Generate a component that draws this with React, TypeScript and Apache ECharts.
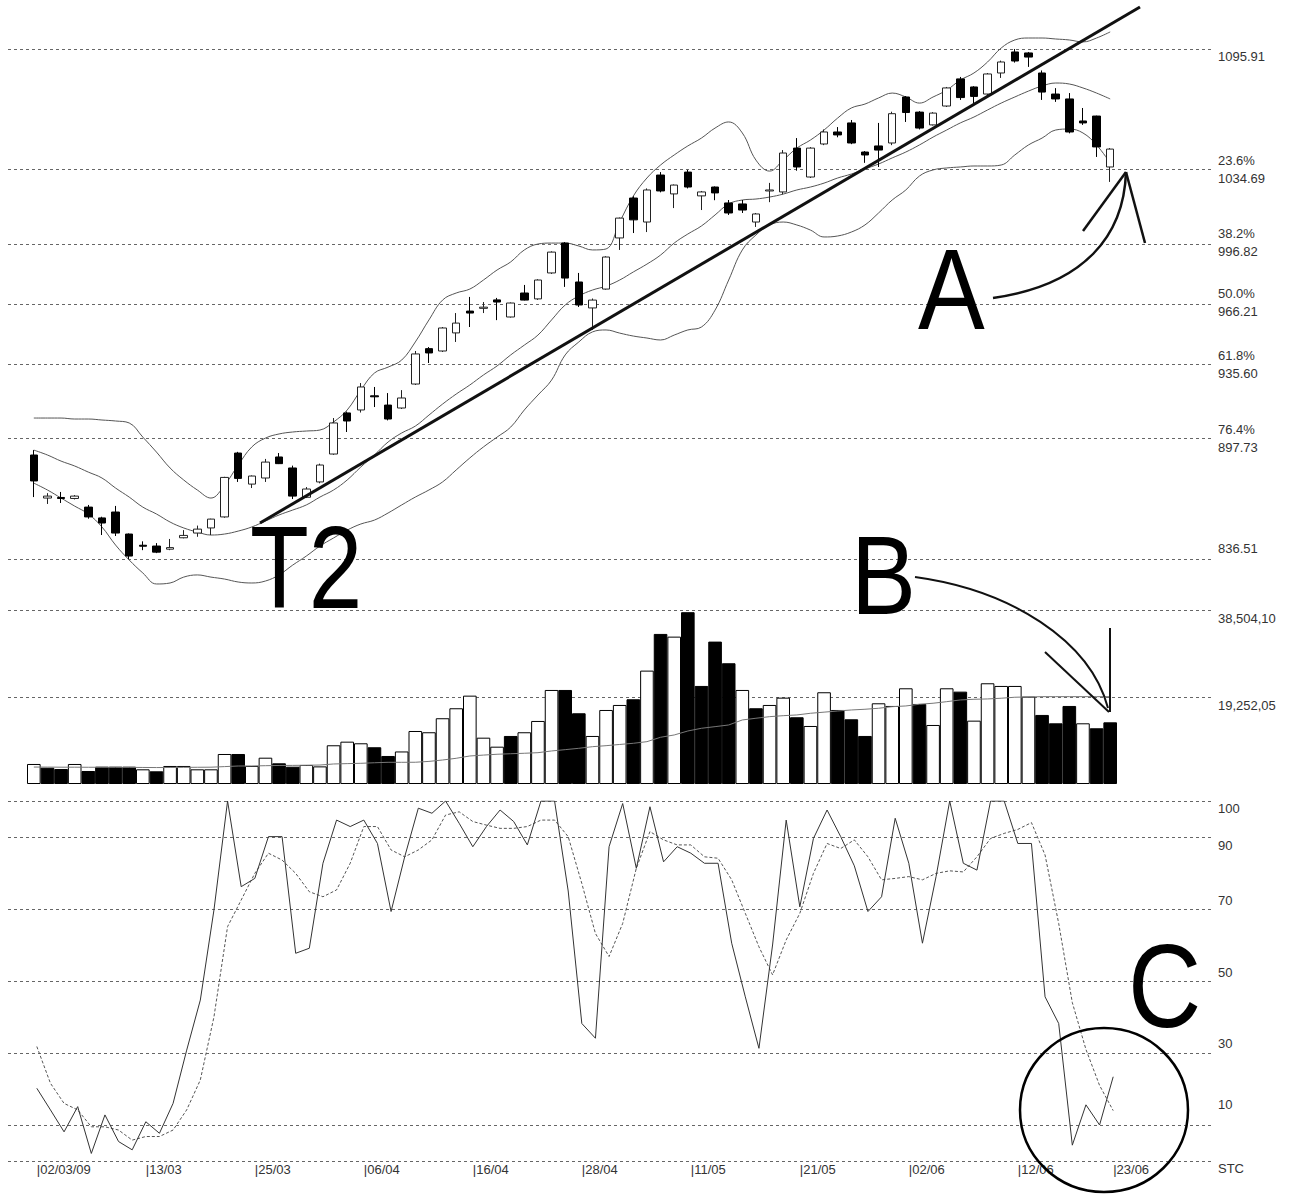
import React, { useEffect, useRef } from "react";
import * as echarts from "echarts";

const FONT = "'Liberation Sans', Arial, sans-serif";

const dates = ["02/03/09","03/03/09","04/03/09","05/03/09","06/03/09","10/03/09","11/03/09","12/03/09","13/03/09","16/03/09","17/03/09","18/03/09","19/03/09","20/03/09","23/03/09","24/03/09","25/03/09","26/03/09","27/03/09","30/03/09","31/03/09","01/04/09","02/04/09","03/04/09","06/04/09","07/04/09","08/04/09","09/04/09","10/04/09","13/04/09","14/04/09","15/04/09","16/04/09","17/04/09","20/04/09","21/04/09","22/04/09","23/04/09","24/04/09","27/04/09","28/04/09","29/04/09","30/04/09","04/05/09","05/05/09","06/05/09","07/05/09","08/05/09","11/05/09","12/05/09","13/05/09","14/05/09","15/05/09","18/05/09","19/05/09","20/05/09","21/05/09","22/05/09","25/05/09","26/05/09","27/05/09","28/05/09","29/05/09","01/06/09","02/06/09","03/06/09","04/06/09","05/06/09","08/06/09","09/06/09","10/06/09","11/06/09","12/06/09","15/06/09","16/06/09","17/06/09","18/06/09","19/06/09","22/06/09","23/06/09"];
const xLabelIndices = [0, 8, 16, 24, 32, 40, 48, 56, 64, 72, 79];

const opens = [889.4,867.5,867.8,867.3,862.9,857.4,860.4,849.2,843.5,843.1,841.5,847.3,849.7,852.3,857.9,890.4,874.6,877.7,888.4,882.8,867.9,875.7,889.9,910.8,912.3,919.5,914.8,913.3,925.5,943.5,942.3,951.5,962.6,964.0,968.3,959.6,971.8,968.8,982.0,997.2,977.4,964.2,973.8,999.8,1020.1,1007.9,1031.8,1022.2,1033.3,1021.2,1025.7,1017.6,1017.1,1007.9,1023.7,1023.2,1045.5,1030.8,1047.6,1053.7,1058.3,1043.5,1046.6,1048.1,1071.5,1063.8,1057.3,1066.9,1080.7,1076.6,1073.0,1083.7,1094.4,1093.9,1083.7,1073.0,1070.5,1059.3,1061.8,1035.9];
const closes = [876.2,868.5,867.3,868.5,857.9,854.8,849.7,838.0,843.0,840.0,842.3,848.5,851.7,856.8,878.0,877.5,878.7,885.8,885.0,868.5,872.1,884.3,905.7,906.7,924.0,919.0,907.7,918.4,940.8,941.3,954.0,956.5,961.6,964.6,967.2,966.7,968.2,978.4,992.6,979.4,965.7,968.2,990.1,1009.9,1009.0,1024.2,1023.7,1026.7,1025.7,1023.2,1022.7,1012.5,1014.0,1012.0,1024.2,1043.0,1035.9,1045.5,1053.7,1052.2,1048.1,1042.0,1044.5,1063.0,1063.6,1055.7,1063.3,1076.1,1071.2,1071.8,1083.2,1089.3,1089.8,1091.8,1074.0,1070.5,1053.7,1058.3,1046.1,1045.0];
const lows = [868.0,864.5,865.0,866.8,857.0,848.7,848.2,836.51,841.0,839.5,841.0,847.0,847.8,848.7,857.5,875.7,872.6,875.7,884.8,867.0,867.5,875.0,889.5,901.1,911.0,913.8,907.0,912.8,925.0,936.2,941.8,946.9,954.5,961.6,958.0,959.3,968.0,968.3,981.5,974.9,964.7,953.0,973.5,993.7,1002.3,1002.8,1023.0,1015.0,1025.0,1014.0,1019.0,1011.5,1012.5,1005.4,1018.0,1022.0,1034.0,1030.3,1047.0,1051.0,1047.5,1038.0,1035.9,1047.0,1058.8,1055.0,1057.0,1066.4,1070.0,1068.4,1072.5,1081.2,1089.0,1086.8,1070.0,1069.0,1053.0,1057.3,1041.0,1028.3];
const highs = [891.9,870.0,870.6,869.0,864.0,858.0,863.5,849.5,845.5,844.6,846.7,851.2,853.5,857.0,878.3,891.0,879.0,887.4,890.4,884.0,873.1,885.0,908.2,911.5,926.0,924.0,920.9,922.4,942.3,944.3,954.5,961.6,969.8,967.2,969.3,967.0,975.9,978.8,993.0,997.7,982.0,969.0,990.5,1010.2,1021.0,1025.0,1033.3,1027.0,1034.4,1023.7,1026.0,1019.1,1019.1,1012.5,1027.8,1044.5,1050.6,1046.0,1055.0,1056.2,1059.8,1044.0,1058.3,1064.0,1072.0,1064.3,1063.8,1076.6,1081.7,1077.0,1083.7,1090.0,1095.91,1094.4,1085.0,1076.0,1073.5,1065.9,1062.0,1045.5];

const bbUpper = [908.2,908.2,908.2,907.7,907.7,907.2,906.7,905.7,898.5,890.9,882.8,876.7,871.6,867.5,874.1,884.3,893.5,898.0,900.1,901.1,901.6,902.1,906.2,912.3,922.4,931.1,934.1,937.7,946.9,958.1,968.2,971.8,973.8,978.4,983.5,987.6,993.7,996.7,997.2,997.2,995.7,993.7,994.2,1007.9,1021.1,1030.3,1036.9,1042.0,1046.6,1050.6,1055.7,1058.8,1053.2,1039.4,1033.8,1039.4,1045.5,1049.6,1054.7,1060.8,1065.9,1067.9,1071.0,1073.5,1071.5,1068.4,1071.5,1075.0,1080.1,1083.7,1089.3,1096.4,1100.5,1101.5,1101.5,1101.0,1100.5,1099.5,1101.5,1104.6];
const bbMiddle = [891.9,889.4,886.3,883.8,880.7,877.7,872.6,868.0,862.9,859.4,855.3,852.3,850.2,848.7,849.2,850.7,852.8,855.8,858.9,861.4,864.0,868.0,871.6,876.7,883.3,889.4,896.0,900.6,904.1,909.7,915.3,920.4,925.0,930.1,934.7,940.3,945.3,950.4,958.1,965.7,970.3,973.3,975.3,978.4,982.5,986.5,991.1,997.2,1001.8,1005.9,1011.5,1017.1,1019.1,1019.6,1020.6,1022.1,1024.2,1025.7,1027.7,1030.3,1032.3,1034.9,1037.4,1040.5,1043.5,1047.1,1051.1,1054.7,1058.3,1061.3,1064.9,1068.4,1071.5,1074.5,1077.1,1078.6,1078.1,1076.1,1073.5,1070.5];
const bbLower = [875.1,871.6,867.5,863.4,859.4,852.8,843.6,836.0,829.4,823.8,824.3,827.3,828.4,827.3,826.3,824.8,824.3,825.3,828.4,833.4,838.0,843.1,847.2,851.2,854.3,856.3,859.9,864.0,868.0,871.6,875.7,881.8,887.9,893.5,898.5,903.6,912.3,919.9,927.5,940.3,946.9,952.0,953.0,951.4,949.9,948.9,947.9,950.4,953.0,954.5,963.1,978.4,993.7,1001.3,1006.4,1007.9,1006.4,1003.8,1000.3,1000.8,1002.8,1006.4,1012.5,1019.1,1024.2,1031.3,1034.4,1035.4,1035.9,1036.4,1036.4,1036.9,1042.0,1047.1,1050.6,1054.7,1055.2,1053.2,1047.1,1037.9];

const volumes = [4430,3610,3320,4430,2880,3830,3830,3830,3250,2810,3990,3990,3250,3250,6640,6640,3990,5820,4580,3830,4210,3900,8570,9370,9010,8130,6200,7200,11730,11450,14550,16760,19550,10250,8260,10630,11450,13950,20810,20810,15650,10630,16380,17490,18750,25090,33210,32610,38020,21700,31510,26720,20810,16760,17490,19110,14770,12840,20300,16380,14320,10630,17860,17270,21180,17710,13060,21180,20440,14020,22290,21700,21700,19330,15280,13430,17270,13430,12330,13650];
const volumeMA = [3750,3740,3720,3720,3700,3700,3690,3680,3660,3640,3650,3680,3700,3720,3850,3980,3990,4050,4100,4120,4150,4200,4430,4510,4580,4700,4800,4800,4810,5000,5310,5690,6200,6400,6580,6700,6800,6930,7310,7600,7900,8260,8480,8750,9010,9370,10340,10850,11730,12330,12690,13060,14170,14550,14900,15120,15280,15650,15900,16160,16380,16540,16760,17110,17270,17650,17870,18220,18600,18750,18820,18980,19200,19260,19330,19330,19330,19330,19330,19330];

const stochK = [20.2,14.2,8.1,15.1,2.1,12.8,5.4,3.1,10.9,7.7,16.0,30.8,44.7,69.7,100,76.2,78.5,90.1,90.1,57.7,59.1,82.7,94.7,92.9,94.7,88.2,69.3,84.5,98.0,96.6,100,93.8,87.3,92.9,97.5,94.3,87.8,100,100,75,38.2,34.1,87.3,99.3,81.3,98.4,83.1,87.3,85.5,82.7,82.7,60.5,45.6,31.3,60,94.7,70.6,89.6,97.5,90.1,82,69.3,73.4,95.2,82.7,60.5,79.0,100,82.7,80.8,100,100,88.2,88.2,45.6,38.2,4.4,15.6,10.0,23.4];
const stochD = [31.8,21.6,16.0,14.2,9.5,9.5,8.6,5.8,6.8,6.8,8.6,14.2,22.5,40,65.1,72.5,79.9,85.5,83.6,79.9,74.8,73.4,75.3,82.7,92.9,92.9,86.4,84.5,86.4,89.2,96.1,97.0,94.3,93.3,92.4,92.4,92.9,94.7,94.7,90.1,77.1,63.2,56.8,66.0,81.3,91.5,89.2,87.8,87.8,84.5,84.1,78.1,68.8,59.5,51.7,61.4,68.8,79.9,88.2,86.8,89.2,84.5,78.1,78.5,79.0,78.1,79.9,80.6,80.3,84.5,89.6,91.0,92.1,94.0,85,66,44,31,21,14];

const priceLevels = [1095.91, 1034.69, 996.82, 966.21, 935.6, 897.73, 836.51];
const priceLevelLabels = ["1095.91", "23.6%\n1034.69", "38.2%\n996.82", "50.0%\n966.21", "61.8%\n935.60", "76.4%\n897.73", "836.51"];
const volumeLevels = [38504.1, 19252.05];
const volumeLevelLabels = ["38,504,10", "19,252,05"];
const stochLevels = [100, 90, 70, 50, 30, 10, 0];
const stochLevelLabels = ["100", "90", "70", "50", "30", "10", "STC"];

// label vertical offsets (styling only)
const priceLabelDy = [8, 0, -1, -1.5, 0, 0, -10];
const volumeLabelDy = [8, 8];
const stochLabelDy = [7, 8, -9, -9, -10, -21, 7];

const PRICE_MIN = 815.65, PRICE_MAX = 1120.83;
const VOL_MAX = 38504.1;

function refLines(values: number[], labels: string[], dys: number[]) {
  return {
    silent: true,
    z: 1,
    symbol: ["none", "none"],
    animation: false,
    lineStyle: { type: [3, 3], color: "#666", width: 1 },
    label: { position: "end", distance: 6, color: "#333", fontSize: 13, fontFamily: FONT, lineHeight: 18 },
    emphasis: { disabled: true },
    data: values.map((v, i) => ({ yAxis: v, label: { formatter: labels[i], offset: [0, dys[i]] } })),
  };
}

export default function App() {
  const ref = useRef<HTMLDivElement>(null);
  useEffect(() => {
    const chart = echarts.init(ref.current!, null, { renderer: "svg" });
    const dataGrid = { left: 27, width: 1090 };
    const stochGrid = { left: 30, width: 1090 };
    const refGrid = { left: 8, right: 77 };
    const hiddenCat = (g: number) => ({ type: "category", gridIndex: g, data: dates, boundaryGap: true, show: false });
    const hiddenVal = (g: number) => ({ type: "value", gridIndex: g, min: 0, max: 1, show: false });
    const yv = (g: number, min: number, max: number) => ({ type: "value", gridIndex: g, min, max, show: false, splitLine: { show: false } });
    const refSeries = (g: number, values: number[], labels: string[], dys: number[]) => ({
      type: "line", xAxisIndex: g, yAxisIndex: g, data: [], symbol: "none", silent: true, z: 1,
      lineStyle: { opacity: 0 }, markLine: refLines(values, labels, dys),
    });

    const option: any = {
      animation: false,
      backgroundColor: "#fff",
      grid: [
        { ...dataGrid, top: 0, height: 600 },
        { ...refGrid, top: 0, height: 600 },
        { ...dataGrid, top: 610, height: 174 },
        { ...refGrid, top: 610, height: 174 },
        { ...stochGrid, top: 801, height: 360 },
        { ...refGrid, top: 801, height: 360 },
      ],
      xAxis: [
        hiddenCat(0), hiddenVal(1), hiddenCat(2), hiddenVal(3),
        {
          type: "category", gridIndex: 4, data: dates, boundaryGap: true,
          axisLine: { show: false }, axisTick: { show: false }, splitLine: { show: false },
          axisLabel: {
            interval: (i: number) => xLabelIndices.includes(i),
            formatter: (v: string, i: number) => "|" + (i === 0 ? v : v.slice(0, 5)),
            align: "left", color: "#333", fontSize: 13, fontFamily: FONT, margin: 2,
          },
        },
        hiddenVal(5),
      ],
      yAxis: [
        yv(0, PRICE_MIN, PRICE_MAX), yv(1, PRICE_MIN, PRICE_MAX),
        yv(2, 0, VOL_MAX), yv(3, 0, VOL_MAX),
        yv(4, 0, 100), yv(5, 0, 100),
      ],
      series: [
        refSeries(1, priceLevels, priceLevelLabels, priceLabelDy),
        refSeries(3, volumeLevels, volumeLevelLabels, volumeLabelDy),
        refSeries(5, stochLevels, stochLevelLabels, stochLabelDy),
        ...[bbUpper, bbMiddle, bbLower].map((d) => ({
          type: "line", xAxisIndex: 0, yAxisIndex: 0, data: d, symbol: "none", smooth: 0.4, z: 2,
          lineStyle: { color: "#555", width: 1 },
        })),
        {
          type: "candlestick", xAxisIndex: 0, yAxisIndex: 0, z: 3, barWidth: 8,
          data: dates.map((_, i) => [opens[i], closes[i], lows[i], highs[i]]),
          itemStyle: { color: "#fff", color0: "#000", borderColor: "#222", borderColor0: "#000", borderWidth: 1 },
        },
        {
          type: "bar", xAxisIndex: 2, yAxisIndex: 2, barCategoryGap: "0%", z: 2,
          data: volumes.map((v, i) => {
            const up = i === 0 || closes[i] >= closes[i - 1];
            return { value: v, itemStyle: { color: up ? "#fff" : "#000", borderColor: "#000", borderWidth: 1 } };
          }),
        },
        {
          type: "line", xAxisIndex: 2, yAxisIndex: 2, data: volumeMA, symbol: "none", z: 3,
          lineStyle: { color: "#777", width: 1 },
        },
        {
          type: "line", xAxisIndex: 4, yAxisIndex: 4, data: stochK, symbol: "none", z: 3,
          lineStyle: { color: "#333", width: 1 },
        },
        {
          type: "line", xAxisIndex: 4, yAxisIndex: 4, data: stochD, symbol: "none", z: 2,
          lineStyle: { color: "#555", width: 1, type: [3, 2] },
        },
      ],
      graphic: {
        elements: [
          { type: "line", z: 100, shape: { x1: 260, y1: 523, x2: 1140, y2: 7 }, style: { stroke: "#111", lineWidth: 3 } },
          { type: "text", z: 100, x: 250, y: 568, scaleX: 0.83, style: { text: "T2", fontSize: 116, fontFamily: FONT, fill: "#000", align: "left", verticalAlign: "middle", textAlign: "left", textVerticalAlign: "middle" } },
          { type: "text", z: 100, x: 918, y: 289, scaleX: 0.87, style: { text: "A", fontSize: 115, fontFamily: FONT, fill: "#000", align: "left", verticalAlign: "middle", textAlign: "left", textVerticalAlign: "middle" } },
          { type: "text", z: 100, x: 851, y: 575, scaleX: 0.87, style: { text: "B", fontSize: 112, fontFamily: FONT, fill: "#000", align: "left", verticalAlign: "middle", textAlign: "left", textVerticalAlign: "middle" } },
          { type: "text", z: 100, x: 1128, y: 986, scaleX: 0.86, style: { text: "C", fontSize: 118, fontFamily: FONT, fill: "#000", align: "left", verticalAlign: "middle", textAlign: "left", textVerticalAlign: "middle" } },
          { type: "bezierCurve", z: 100, shape: { x1: 993, y1: 298, cpx1: 1085, cpy1: 285, cpx2: 1124, cpy2: 235, x2: 1126, y2: 172 }, style: { stroke: "#111", lineWidth: 2.5, fill: "none" } },
          { type: "line", z: 100, shape: { x1: 1126, y1: 172, x2: 1083, y2: 231 }, style: { stroke: "#111", lineWidth: 2.5 } },
          { type: "line", z: 100, shape: { x1: 1126, y1: 172, x2: 1145, y2: 243 }, style: { stroke: "#111", lineWidth: 2.5 } },
          { type: "bezierCurve", z: 100, shape: { x1: 915, y1: 577, cpx1: 1010, cpy1: 590, cpx2: 1090, cpy2: 640, x2: 1108, y2: 708 }, style: { stroke: "#111", lineWidth: 2, fill: "none" } },
          { type: "line", z: 100, shape: { x1: 1110, y1: 628, x2: 1110, y2: 712 }, style: { stroke: "#111", lineWidth: 2 } },
          { type: "line", z: 100, shape: { x1: 1045, y1: 652, x2: 1109, y2: 712 }, style: { stroke: "#111", lineWidth: 2 } },
          { type: "ellipse", z: 100, shape: { cx: 1104, cy: 1110, rx: 84, ry: 82 }, style: { stroke: "#000", lineWidth: 2.5, fill: "none" } },
        ],
      },
    };
    chart.setOption(option);
    return () => chart.dispose();
  }, []);
  return <div ref={ref} style={{ position: "absolute", left: 0, top: 0, width: 1289, height: 1196, background: "#fff" }} />;
}
